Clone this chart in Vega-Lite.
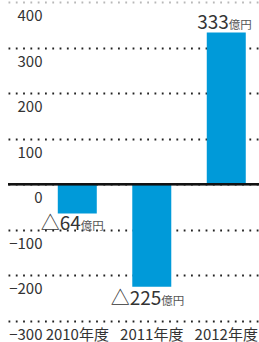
{
  "$schema": "https://vega.github.io/schema/vega-lite/v6.json",
  "width": 251,
  "height": 319,
  "autosize": {"type": "none"},
  "padding": {"left": 8, "top": 2, "right": 0, "bottom": 21},
  "background": "white",
  "config": {"view": {"stroke": null}, "font": "Noto Sans CJK JP"},
  "data": {"values": [
    {"year": "2010年度", "value": -64, "num": "△64"},
    {"year": "2011年度", "value": -225, "num": "△225"},
    {"year": "2012年度", "value": 333, "num": "333"}
  ]},
  "encoding": {
    "x": {
      "field": "year", "type": "nominal", "sort": null,
      "scale": {"type": "band", "paddingInner": 0.4765, "paddingOuter": 0.423, "align": 0.79},
      "axis": {"title": null, "orient": "bottom", "domain": false, "ticks": false, "tickSize": 0, "labelPadding": 18, "labelBaseline": "alphabetic", "labelAngle": 0, "labelFontSize": 15, "labelColor": "#333", "labelFont": "Noto Sans CJK JP", "grid": false}
    },
    "y": {
      "field": "value", "type": "quantitative",
      "scale": {"domain": [-300, 400], "nice": false, "zero": false},
      "axis": {"title": null, "orient": "left", "domain": false, "ticks": false, "tickSize": 0, "labelAlign": "right", "labelPadding": -34, "labelBaseline": "alphabetic", "labelOffset": 18.5, "labelFontSize": 15, "labelColor": "#333", "labelFont": "Noto Sans CJK JP", "labelFlush": false, "labelOverlap": false, "values": [-300, -200, -100, 0, 100, 200, 300, 400], "grid": true, "gridColor": {"condition": {"test": "datum.value === 400", "value": "#b8b8b8"}, "value": "#222"}, "gridDash": [1.8, 5.5], "gridWidth": 1.8}
    }
  },
  "layer": [
    {"mark": {"type": "bar", "color": "#009ad9"}},
    {"mark": {"type": "rule", "color": "#111", "strokeWidth": 2}, "encoding": {"x": null, "y": {"datum": 0, "type": "quantitative"}}},
    {"transform": [{"filter": "datum.year === '2010年度'"}], "mark": {"type": "text", "align": "right", "baseline": "alphabetic", "dx": 3.5, "dy": 16.5, "fontSize": 19, "color": "#333"}, "encoding": {"text": {"field": "num"}}},
    {"transform": [{"filter": "datum.year === '2010年度'"}], "mark": {"type": "text", "align": "left", "baseline": "alphabetic", "dx": 3.5, "dy": 16.5, "fontSize": 11.5, "color": "#555"}, "encoding": {"text": {"value": "億円"}}},
    {"transform": [{"filter": "datum.year === '2011年度'"}], "mark": {"type": "text", "align": "right", "baseline": "alphabetic", "dx": 9.5, "dy": 18, "fontSize": 19, "color": "#333"}, "encoding": {"text": {"field": "num"}}},
    {"transform": [{"filter": "datum.year === '2011年度'"}], "mark": {"type": "text", "align": "left", "baseline": "alphabetic", "dx": 9.5, "dy": 18, "fontSize": 11.5, "color": "#555"}, "encoding": {"text": {"value": "億円"}}},
    {"transform": [{"filter": "datum.year === '2012年度'"}], "mark": {"type": "text", "align": "right", "baseline": "alphabetic", "dx": 2.5, "dy": -3.5, "fontSize": 19, "color": "#333"}, "encoding": {"text": {"field": "num"}}},
    {"transform": [{"filter": "datum.year === '2012年度'"}], "mark": {"type": "text", "align": "left", "baseline": "alphabetic", "dx": 2.5, "dy": -3.5, "fontSize": 11.5, "color": "#555"}, "encoding": {"text": {"value": "億円"}}}
  ]
}
